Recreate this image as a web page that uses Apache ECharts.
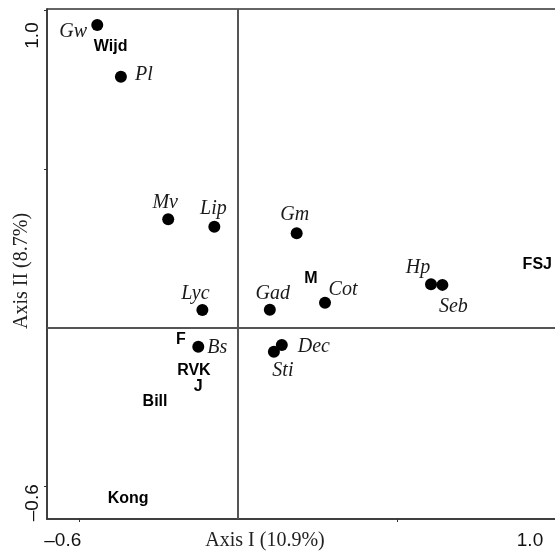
<!DOCTYPE html>
<html>
<head>
<meta charset="utf-8">
<script src="https://cdn.jsdelivr.net/npm/echarts@6/dist/echarts.min.js"></script>
<style>
html,body{margin:0;padding:0;background:#fff;}
#c{width:555px;height:556px;}
</style>
</head>
<body>
<div id="c"></div>
<script>
// Species (points with italic labels)
const speciesNames = ['Gw','Pl','Mv','Lip','Gm','Lyc','Gad','Cot','Hp','Seb','Dec','Sti','Bs'];
const speciesX = [-0.482,-0.401,-0.239,-0.081,0.201,-0.122,0.109,0.298,0.661,0.700,0.150,0.123,-0.136];
const speciesY = [1.036,0.859,0.371,0.345,0.323,0.060,0.061,0.085,0.148,0.146,-0.060,-0.083,-0.066];
// Sites (bold labels, no marker)
const siteNames = ['Wijd','M','FSJ','F','RVK','J','Bill','Kong'];
const siteX = [-0.436,0.250,1.025,-0.196,-0.151,-0.136,-0.284,-0.376];
const siteY = [0.962,0.167,0.214,-0.043,-0.146,-0.203,-0.254,-0.585];
// Axis tick labels
const xTickLabels = [-0.6, 1.0];
const yTickLabels = [-0.6, 1.0];
const xTickMarks = [-0.545, 0.545];
const yTickMarks = [-0.545, 0.543, 1.088];
const xAxisName = 'Axis I (10.9%)';
const yAxisName = 'Axis II (8.7%)';

// label offsets (layout only)
const speciesLabelOffset = {
  Gw:[-24,7], Pl:[23,-2], Mv:[-3,-16], Lip:[-1,-18], Gm:[-2,-18], Lyc:[-7,-16],
  Gad:[3,-16], Cot:[18,-13], Hp:[-13,-17], Seb:[11,22], Dec:[32,2], Sti:[9,19], Bs:[19,1]
};

const fmt = v => (v < 0 ? '\u2013' : '') + Math.abs(v).toFixed(1);

const speciesData = speciesNames.map((n,i) => ({
  name: n, value: [speciesX[i], speciesY[i]],
  label: { offset: speciesLabelOffset[n] }
}));
const siteData = siteNames.map((n,i) => ({ name: n, value: [siteX[i], siteY[i]] }));

const axisColor = '#333';
const chart = echarts.init(document.getElementById('c'), null, {renderer:'canvas'});
chart.setOption({
  backgroundColor: '#fff',
  animation: false,
  grid: { left: 47, top: 9, right: -2, bottom: 37, show: true, borderColor: axisColor, borderWidth: 1.5, outerBoundsMode: 'none' },
  xAxis: {
    type: 'value', min: -0.6541, max: 1.0925,
    splitLine: { show: false },
    axisLine: { show: true, onZero: false, lineStyle: { color: axisColor, width: 1.5 } },
    axisTick: { show: true, customValues: xTickMarks, length: 3, lineStyle: { color: axisColor } },
    axisLabel: { customValues: xTickLabels, formatter: fmt, color: '#111', fontFamily: 'Liberation Sans', fontSize: 19, margin: 12 },
    name: xAxisName, nameLocation: 'middle', nameGap: 12, nameMoveOverlap: false,
    nameTextStyle: { fontFamily: 'Liberation Serif', fontSize: 20, color: '#222', verticalAlign: 'top', padding: [0, 74, 0, 0] }
  },
  yAxis: {
    type: 'value', min: -0.6558, max: 1.0908,
    splitLine: { show: false },
    axisLine: { show: true, onZero: false, lineStyle: { color: axisColor, width: 1.5 } },
    axisTick: { show: true, customValues: yTickMarks, length: 3, lineStyle: { color: axisColor } },
    axisLabel: { customValues: yTickLabels, formatter: fmt, rotate: 90, color: '#111', fontFamily: 'Liberation Sans', fontSize: 19, margin: 5 },
    name: yAxisName, nameLocation: 'middle', nameGap: 15, nameMoveOverlap: false,
    nameTextStyle: { fontFamily: 'Liberation Serif', fontSize: 20, color: '#222', padding: [0, 14, 0, 0] }
  },
  series: [
    {
      type: 'scatter', name: 'species', data: speciesData,
      symbol: 'circle', symbolSize: 12,
      itemStyle: { color: '#000', opacity: 1 },
      label: { show: true, position: 'inside', formatter: '{b}', fontFamily: 'Liberation Serif', fontStyle: 'italic', fontSize: 20, color: '#1a1a1a' },
      markLine: {
        silent: true, symbol: 'none', label: { show: false },
        lineStyle: { color: '#555', width: 2, type: 'solid', opacity: 1 },
        data: [{ xAxis: 0 }, { yAxis: 0 }]
      },
      z: 3
    },
    {
      type: 'scatter', name: 'sites', data: siteData,
      symbol: 'circle', symbolSize: 1,
      itemStyle: { color: 'rgba(0,0,0,0)', opacity: 1 },
      label: { show: true, position: 'inside', formatter: '{b}', fontFamily: 'Liberation Sans', fontWeight: 'bold', fontSize: 16, color: '#000' },
      z: 4
    }
  ]
});
</script>
</body>
</html>
